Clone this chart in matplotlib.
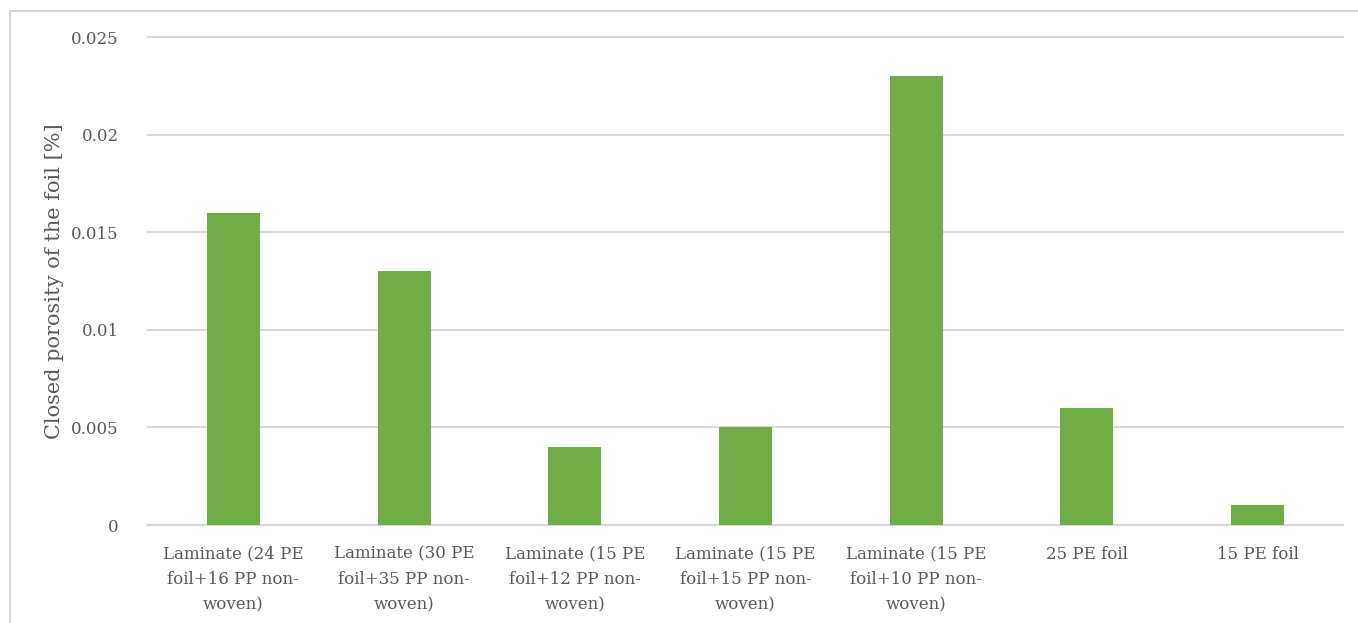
import numpy as np
import matplotlib.pyplot as plt
from matplotlib.patches import Rectangle

# sample names and closed porosity values
labels = ['Laminate (24 PE\nfoil+16 PP non-\nwoven)',
          'Laminate (30 PE\nfoil+35 PP non-\nwoven)',
          'Laminate (15 PE\nfoil+12 PP non-\nwoven)',
          'Laminate (15 PE\nfoil+15 PP non-\nwoven)',
          'Laminate (15 PE\nfoil+10 PP non-\nwoven)',
          '25 PE foil',
          '15 PE foil']
porosity = [0.016, 0.013, 0.004, 0.005, 0.023, 0.006, 0.001]
yticks = [0, 0.005, 0.01, 0.015, 0.02, 0.025]
ytick_labels = ['0', '0.005', '0.01', '0.015', '0.02', '0.025']

plt.rcParams['font.family'] = ['DejaVu Serif']
text_color = '#595959'
grid_color = '#d9d9d9'

fig = plt.figure(figsize=(13.58, 6.23), dpi=100)
# light outer frame, open to the right and bottom
fig.patches.append(Rectangle((10 / 1358, -0.1), 1.2, 1 - 11 / 623 + 0.1,
                             transform=fig.transFigure, fill=False,
                             edgecolor=grid_color, linewidth=1.5))

ax = fig.add_axes([148 / 1358, 1 - 525 / 623, (1343 - 148) / 1358, (525 - 37) / 623])
x = np.arange(len(labels))
ax.bar(x, porosity, width=0.31, color='#70ad47', zorder=3)

ax.set_xlim(-0.5, len(labels) - 0.5)
ax.set_ylim(0, 0.025)
ax.set_yticks(yticks)
ax.set_yticklabels(ytick_labels)
ax.set_xticks(x)
ax.set_xticklabels(labels, linespacing=1.65)
ax.yaxis.grid(True, color=grid_color, linewidth=1.5, zorder=0)
for gl in ax.get_ygridlines():
    gl.set_clip_on(False)
ax.tick_params(axis='both', length=0, labelsize=12, colors=text_color)
ax.tick_params(axis='x', pad=15)
ax.tick_params(axis='y', pad=21)
for side in ['top', 'right', 'left']:
    ax.spines[side].set_visible(False)
ax.spines['bottom'].set_color(grid_color)
ax.spines['bottom'].set_linewidth(1.5)
ax.set_ylabel('Closed porosity of the foil [%]', fontsize=15, color=text_color, labelpad=5)

fig.savefig('out.png', dpi=100)
